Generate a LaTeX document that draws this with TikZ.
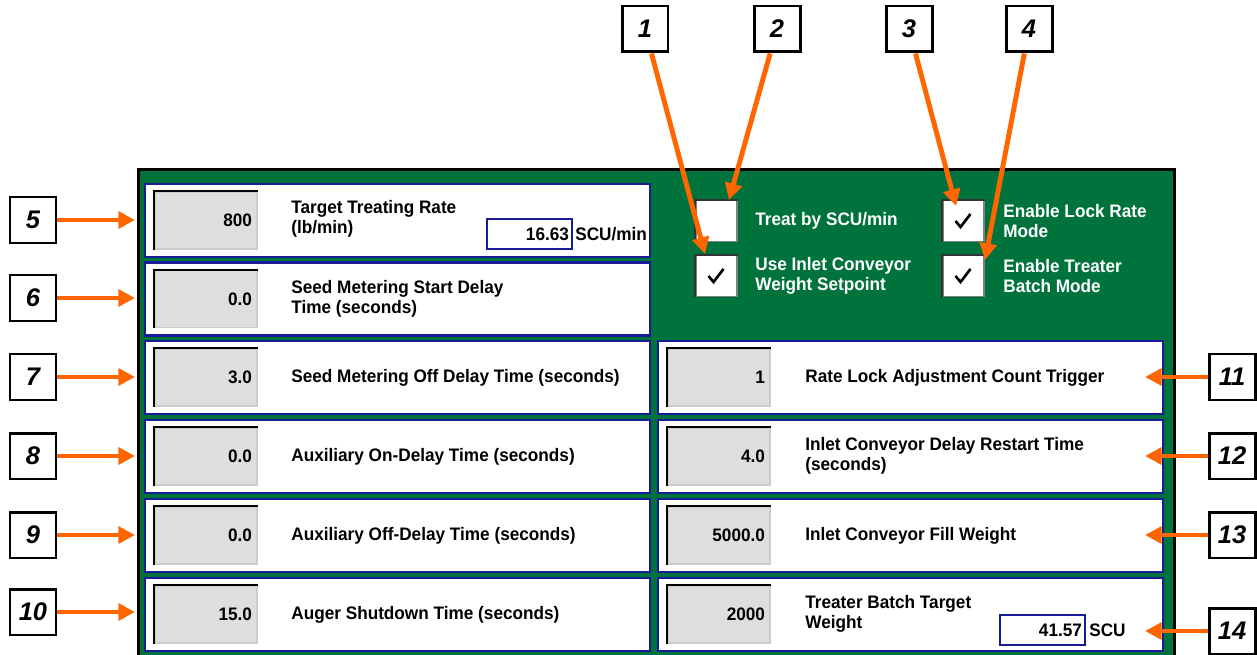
\documentclass[tikz,border=0pt]{standalone}
\usepackage{fontspec}
\setmainfont{Liberation Sans}
\newfontfamily\uifont[FakeStretch=0.95]{Liberation Sans}
\usetikzlibrary{arrows.meta}

\definecolor{panelgreen}{RGB}{0,114,60}
\definecolor{rowblue}{RGB}{24,28,150}
\definecolor{callorange}{RGB}{255,102,0}
\definecolor{fieldgray}{RGB}{222,222,222}

\tikzset{
  setrow/.style={draw=rowblue, line width=1.3pt, fill=white, minimum width=10.1cm, minimum height=1.46cm, inner sep=0pt},
  valuebox/.style={draw=gray!40, line width=0.8pt, fill=fieldgray, minimum width=2.04cm, minimum height=1.14cm,
    text width=1.84cm, inner xsep=0.1cm, align=right, font=\uifont\bfseries\fontsize{10.3}{12}\selectfont},
  unitbox/.style={draw=rowblue, line width=1.1pt, fill=white, minimum width=1.7cm, minimum height=0.6cm,
    text width=1.58cm, inner xsep=0.06cm, align=right, font=\uifont\bfseries\fontsize{10.3}{12}\selectfont},
  rowtext/.style={anchor=west, align=left, inner sep=0pt, font=\uifont\bfseries\fontsize{10.3}{11.4}\selectfont},
  checktext/.style={rowtext, text=white},
  tickbox/.style={draw=gray, line width=0.9pt, fill=white, minimum size=0.82cm, inner sep=0pt},
  callbox/.style={draw=black, line width=1.7pt, fill=white, minimum size=0.92cm, inner sep=0pt,
    font=\bfseries\itshape\fontsize{14.5}{14.5}\selectfont},
  callarrow/.style={draw=callorange, line width=2.8pt, -{Triangle[length=9.5pt, width=9.5pt]}}
}

\begin{document}
\begin{tikzpicture}[x=0.02cm, y=-0.02cm]
  \useasboundingbox (0,0) rectangle (1257,655);

  % Panel
  \node[draw=black, line width=1.6pt, fill=panelgreen, minimum width=20.72cm, minimum height=9.9cm,
    inner sep=0pt, anchor=north west] (panel) at (137,168) {};

  % Setting rows
  \node[setrow] (r5) at (397.5,220.5) {};
  \node[setrow] (r6) at (397.5,299) {};
  \node[setrow] (r7) at (397.5,377.5) {};
  \node[setrow] (r8) at (397.5,456.5) {};
  \node[setrow] (r9) at (397.5,535.5) {};
  \node[setrow] (r10) at (397.5,614.5) {};
  \node[setrow] (r11) at (910.5,377.5) {};
  \node[setrow] (r12) at (910.5,456.5) {};
  \node[setrow] (r13) at (910.5,535.5) {};
  \node[setrow] (r14) at (910.5,614.5) {};

  % Value fields
  \node[valuebox] (f5) at (206,220.5) {800};
  \node[valuebox] (f6) at (206,299) {0.0};
  \node[valuebox] (f7) at (206,377.5) {3.0};
  \node[valuebox] (f8) at (206,456.5) {0.0};
  \node[valuebox] (f9) at (206,535.5) {0.0};
  \node[valuebox] (f10) at (206,614.5) {15.0};
  \node[valuebox] (f11) at (719,377.5) {1};
  \node[valuebox] (f12) at (719,456.5) {4.0};
  \node[valuebox] (f13) at (719,535.5) {5000.0};
  \node[valuebox] (f14) at (719,614.5) {2000};
  \foreach \f in {f5,f6,f7,f8,f9,f10,f11,f12,f13,f14}
    \draw[line width=1.2pt] (\f.south west) -- (\f.north west) -- (\f.north east);

  % Row texts
  \node[rowtext] (t5) at (291,219) {Target Treating Rate\\(lb/min)};
  \node[rowtext] (t6) at (291,299) {Seed Metering Start Delay\\Time (seconds)};
  \node[rowtext] (t7) at (291,378) {Seed Metering Off Delay Time (seconds)};
  \node[rowtext] (t8) at (291,457) {Auxiliary On-Delay Time (seconds)};
  \node[rowtext] (t9) at (291,536) {Auxiliary Off-Delay Time (seconds)};
  \node[rowtext] (t10) at (291,615) {Auger Shutdown Time (seconds)};
  \node[rowtext] (t11) at (805,378) {Rate Lock Adjustment Count Trigger};
  \node[rowtext] (t12) at (805,456) {Inlet Conveyor Delay Restart Time\\(seconds)};
  \node[rowtext] (t13) at (805,536) {Inlet Conveyor Fill Weight};
  \node[rowtext] (t14) at (805,614) {Treater Batch Target\\Weight};

  % Unit readouts
  \node[unitbox] (u5) at (529.5,234) {16.63};
  \node[rowtext] (su5) at (575,234) {SCU/min};
  \node[unitbox] (u14) at (1042.5,630) {41.57};
  \node[rowtext] (su14) at (1089,630) {SCU};

  % Check boxes
  \node[tickbox] (c2) at (716.5,221) {};
  \node[tickbox] (c1) at (716.5,276) {};
  \node[tickbox] (c3) at (963.5,221) {};
  \node[tickbox] (c4) at (963.5,276) {};
  \foreach \c in {c1,c2,c3,c4}
    \draw[line width=1.1pt, black!80] (\c.south west) -- (\c.north west) -- (\c.north east);
  \foreach \c in {c1,c3,c4}
    \draw[line width=1.5pt] (\c.center) ++(-8,0) -- ++(5,6) -- ++(10,-13);
  \node[checktext] (k2) at (755,221) {Treat by SCU/min};
  \node[checktext] (k1) at (755,276) {Use Inlet Conveyor\\Weight Setpoint};
  \node[checktext] (k3) at (1003,221) {Enable Lock Rate\\Mode};
  \node[checktext] (k4) at (1003,276) {Enable Treater\\Batch Mode};

  % Callout numbers
  \node[callbox] (n1) at (645,29) {1};
  \node[callbox] (n2) at (777,29) {2};
  \node[callbox] (n3) at (909,29) {3};
  \node[callbox] (n4) at (1029,29) {4};
  \node[callbox] (n5) at (33,220) {5};
  \node[callbox] (n6) at (33,298) {6};
  \node[callbox] (n7) at (33,377) {7};
  \node[callbox] (n8) at (33,456) {8};
  \node[callbox] (n9) at (33,535) {9};
  \node[callbox] (n10) at (33,612) {10};
  \node[callbox] (n11) at (1232,377) {11};
  \node[callbox] (n12) at (1232,456) {12};
  \node[callbox] (n13) at (1232,535) {13};
  \node[callbox] (n14) at (1232,631) {14};

  % Arrow tips
  \coordinate (a1) at (705,254);
  \coordinate (a2) at (729,200);
  \coordinate (a3) at (956,206);
  \coordinate (a4) at (985,260);
  \coordinate (a5) at (135,220);
  \coordinate (a6) at (135,298);
  \coordinate (a7) at (135,377);
  \coordinate (a8) at (135,456);
  \coordinate (a9) at (135,535);
  \coordinate (a10) at (135,612);
  \coordinate (a11) at (1145,377);
  \coordinate (a12) at (1145,456);
  \coordinate (a13) at (1145,535);
  \coordinate (a14) at (1145,631);

  % Callout arrows
  \foreach \i in {1,...,14}
    \draw[callarrow] (n\i) -- (a\i);
\end{tikzpicture}
\end{document}
